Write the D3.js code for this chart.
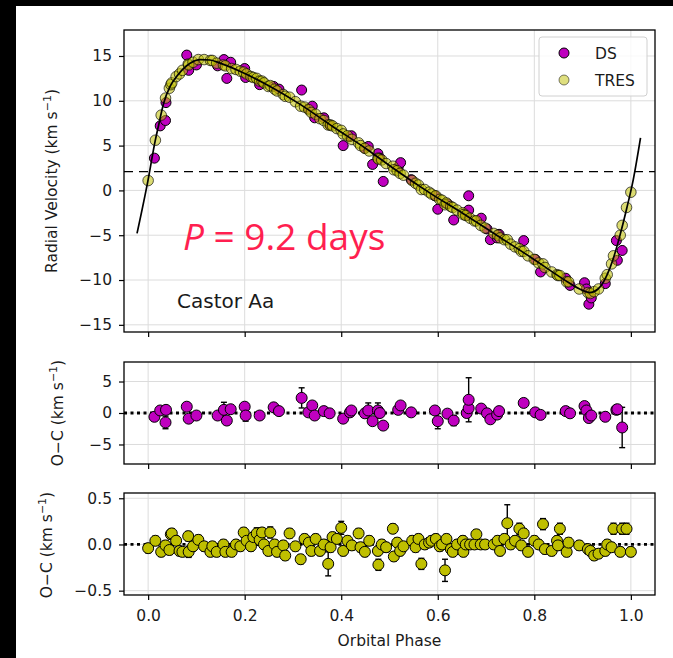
<!DOCTYPE html>
<html>
<head>
<meta charset="utf-8">
<script src="https://cdnjs.cloudflare.com/ajax/libs/d3/7.8.5/d3.min.js"></script>
<style>
  body { margin: 0; background: #fff; }
  svg { display: block; }
  text { font-family: "DejaVu Sans", sans-serif; fill: #1a1a1a; }
</style>
</head>
<body>
<script>

// model curve
const curvePhase = [-0.023, 0.000, 0.0145, 0.021, 0.032, 0.0455, 0.059, 0.073, 0.087, 0.108, 0.128, 0.149, 0.190, 0.246, 0.315, 0.383, 0.453, 0.507, 0.584, 0.653, 0.722, 0.791, 0.860, 0.894, 0.915, 0.932, 0.950, 0.963, 0.977, 0.991, 1.005, 1.020];
const curveRV    = [-4.8, 1.2, 5.5, 7.1, 9.7, 11.6, 12.7, 13.6, 14.2, 14.6, 14.55, 14.2, 13.3, 11.8, 9.6, 7.1, 4.6, 2.5, -0.3, -2.6, -5.0, -7.4, -9.9, -11.0, -11.4, -11.0, -9.5, -7.7, -5.1, -2.1, 1.2, 5.85];
const gamma = 2.1;

// DS observations
const dsPhase = [0.013,0.025,0.036,0.037,0.080,0.084,0.100,0.144,0.157,0.163,0.171,0.200,0.202,0.231,0.260,0.271,0.318,0.332,0.340,0.345,0.364,0.376,0.404,0.418,0.421,0.449,0.456,0.465,0.476,0.480,0.487,0.518,0.523,0.545,0.594,0.600,0.620,0.633,0.660,0.664,0.664,0.690,0.702,0.709,0.723,0.727,0.778,0.802,0.813,0.865,0.874,0.904,0.908,0.913,0.918,0.947,0.970,0.972,0.982];
const dsRV    = [3.6,7.2,7.8,9.8,15.1,13.4,14.0,13.9,14.6,12.5,14.3,13.6,12.6,11.8,11.6,11.3,11.2,9.1,9.4,8.1,8.1,7.3,5.0,6.0,6.1,4.7,4.9,2.9,4.1,3.6,1.0,2.6,3.1,1.2,-0.6,-2.1,-1.5,-3.3,-2.8,-2.2,-0.6,-3.1,-4.3,-5.5,-5.3,-4.9,-5.6,-7.7,-9.1,-9.8,-10.6,-10.3,-11.0,-12.7,-12.0,-10.4,-5.6,-7.8,-6.7];
const dsOC    = [-0.6,0.4,-1.5,0.5,1.0,-0.9,-0.4,-0.4,0.5,-1.2,0.6,1.0,-0.4,-0.4,0.9,0.3,2.4,0.1,1.2,-0.4,0.3,-0.05,-0.9,0.1,0.4,-0.05,0.4,-1.3,0.4,0.0,-2.0,0.5,1.2,0.1,0.4,-1.3,-0.1,-1.2,0.0,0.75,2.1,0.7,-0.05,-1.0,-0.25,0.3,1.6,0.1,-0.3,0.3,-0.05,1.1,0.4,-0.8,-0.4,-0.6,0.5,0.6,-2.3];
const dsErr   = [0.6,0.6,1.0,0.6,0.6,0.6,0.6,0.6,1.2,0.6,0.6,0.6,0.9,0.6,0.6,0.6,1.6,0.6,0.6,0.6,0.6,0.6,0.6,0.6,0.6,0.6,1.2,0.6,1.2,0.6,0.6,0.6,0.6,0.6,0.6,1.2,0.6,0.8,0.6,0.6,3.5,0.6,0.6,0.6,0.6,0.6,0.6,0.6,0.6,0.6,0.6,0.6,0.6,0.6,0.6,0.6,0.6,0.6,3.2];

// TRES observations
const tresPhase = [0.000,0.015,0.027,0.036,0.044,0.047,0.049,0.058,0.065,0.071,
  0.083,0.084,0.093,0.104,0.116,0.129,0.133,0.142,0.156,0.160,
  0.173,0.182,0.191,0.198,0.204,0.213,0.218,0.225,0.231,0.236,
  0.240,0.249,0.253,0.262,0.267,0.280,0.284,0.293,0.305,0.316,
  0.324,0.333,0.338,0.347,0.356,0.364,0.373,0.378,0.382,0.391,
  0.400,0.404,0.413,0.422,0.436,0.440,0.449,0.458,0.476,0.477,
  0.484,0.493,0.507,0.509,0.516,0.522,0.529,0.547,0.554,0.560,
  0.566,0.573,0.582,0.587,0.596,0.604,0.609,0.615,0.618,0.627,
  0.631,0.640,0.652,0.653,0.658,0.667,0.676,0.680,0.689,0.698,
  0.716,0.724,0.729,0.738,0.744,0.751,0.760,0.769,0.773,0.778,
  0.787,0.800,0.809,0.818,0.822,0.836,0.847,0.849,0.853,0.867,
  0.871,0.893,0.911,0.916,0.924,0.933,0.947,0.951,0.960,0.964,
  0.978,0.982,0.991,1.000];
const tresRV = [1.1,5.6,8.4,10.3,11.4,11.8,12.0,12.7,13.0,13.4,
  14.1,14.0,14.3,14.6,14.6,14.5,14.5,14.2,14.0,13.9,
  13.6,13.5,13.3,13.2,13.0,12.7,12.6,12.5,12.2,12.2,
  12.0,11.6,11.7,11.3,11.1,10.7,10.5,10.4,9.9,9.4,
  9.3,9.0,8.7,8.5,8.0,7.8,7.3,7.3,7.2,6.9,
  6.7,6.3,6.1,5.7,5.3,5.0,4.7,4.4,3.6,3.5,
  3.4,3.0,2.7,2.3,2.2,1.9,1.7,1.1,0.8,0.6,
  0.1,0.1,-0.2,-0.4,-0.6,-1.0,-1.1,-1.6,-1.4,-1.8,
  -1.9,-2.2,-2.5,-2.7,-2.8,-3.1,-3.4,-3.4,-3.9,-4.2,
  -4.8,-5.0,-5.3,-5.5,-5.5,-6.0,-6.3,-6.5,-6.8,-6.8,
  -7.3,-7.7,-8.1,-8.2,-8.6,-9.1,-9.4,-9.5,-9.5,-10.2,
  -10.2,-11.0,-11.4,-11.5,-11.3,-11.0,-9.8,-9.4,-8.2,-7.3,
  -5.0,-3.9,-1.9,-0.2];
const tresOC = [-0.04,0.04,-0.08,-0.01,-0.06,0.11,0.12,0.04,-0.07,-0.08,
  0.09,-0.08,-0.02,0.05,-0.02,-0.08,-0.02,-0.08,0.00,-0.08,
  -0.08,0.00,-0.02,0.13,0.04,-0.02,0.08,0.12,0.05,0.13,
  0.00,-0.07,0.13,0.00,-0.08,-0.01,-0.12,0.12,-0.02,-0.16,
  0.06,0.02,-0.07,0.06,-0.07,0.00,-0.21,-0.03,0.08,0.06,
  0.18,-0.07,0.04,-0.01,0.12,-0.03,-0.08,0.04,-0.07,-0.22,
  0.00,-0.03,0.17,-0.13,0.02,-0.07,-0.02,0.04,-0.03,0.06,
  -0.21,0.00,0.02,0.04,0.06,-0.02,0.00,-0.28,0.06,-0.05,
  -0.08,0.00,0.04,-0.08,0.00,0.00,0.00,0.11,0.00,0.00,
  0.00,0.04,-0.07,0.06,0.23,0.00,0.04,0.17,-0.01,0.12,
  -0.08,0.04,0.00,0.22,-0.05,-0.07,0.04,-0.01,0.17,-0.08,
  0.02,-0.01,-0.05,-0.07,-0.12,-0.10,-0.07,0.00,-0.03,0.17,
  -0.08,0.17,0.17,-0.08];
const tresErr = [0.05,0.05,0.05,0.05,0.05,0.05,0.05,0.05,0.05,0.05,
  0.05,0.06,0.05,0.05,0.05,0.05,0.05,0.05,0.05,0.05,
  0.05,0.05,0.05,0.05,0.05,0.05,0.05,0.06,0.06,0.05,
  0.05,0.05,0.06,0.05,0.05,0.05,0.05,0.05,0.05,0.05,
  0.05,0.05,0.05,0.05,0.05,0.05,0.13,0.05,0.05,0.05,
  0.07,0.05,0.05,0.05,0.05,0.05,0.05,0.05,0.05,0.06,
  0.05,0.05,0.05,0.05,0.05,0.05,0.05,0.05,0.05,0.05,
  0.06,0.05,0.05,0.05,0.05,0.05,0.05,0.12,0.05,0.05,
  0.05,0.05,0.05,0.05,0.05,0.05,0.05,0.05,0.05,0.05,
  0.05,0.05,0.05,0.05,0.20,0.05,0.05,0.06,0.05,0.05,
  0.05,0.05,0.05,0.06,0.05,0.05,0.05,0.05,0.06,0.05,
  0.05,0.05,0.05,0.05,0.05,0.05,0.05,0.05,0.05,0.06,
  0.05,0.06,0.06,0.05];

// ticks
const phaseTicks = [0, 0.2, 0.4, 0.6, 0.8, 1.0];
const rvTicks = [-15, -10, -5, 0, 5, 10, 15];
const dsOCTicks = [-5, 0, 5];
const tresOCTicks = [-0.5, 0, 0.5];

const W = 673, H = 658;
const L = 124, R = 655;
const magenta = "#bf00bf", olive = "#bfbf00";

let svg = d3.select("body").append("svg")
  .attr("width", W)
  .attr("height", H);

svg.append("rect").attr("width", W).attr("height", H).attr("fill", "#fff");
// black border of the screenshot
svg.append("rect").attr("x", 0).attr("y", 0).attr("width", W).attr("height", 6).attr("fill", "#000");
svg.append("rect").attr("x", 0).attr("y", 0).attr("width", 16).attr("height", H).attr("fill", "#000");

const x = d3.scaleLinear().domain([-0.05, 1.05]).range([L, R]);

const yRV = d3.scaleLinear().domain([-15.8, 17.9]).range([332, 30]);
const yDS = d3.scaleLinear().domain([-8.1, 8.1]).range([464, 362]);
const yTR = d3.scaleLinear().domain([-0.547, 0.557]).range([595, 493]);

function panel(y, yTicks, fmt, xLabels) {
  let g = svg.append("g");
  let [b, t] = y.range();

  // grid
  g.selectAll(null).data(phaseTicks).enter().append("line")
    .attr("x1", d => x(d)).attr("x2", d => x(d))
    .attr("y1", t).attr("y2", b)
    .attr("stroke", "#dcdcdc").attr("stroke-width", 1);
  g.selectAll(null).data(yTicks).enter().append("line")
    .attr("x1", L).attr("x2", R)
    .attr("y1", d => y(d)).attr("y2", d => y(d))
    .attr("stroke", "#dcdcdc").attr("stroke-width", 1);

  let ya = g.append("g")
    .attr("transform", `translate(${L},0)`)
    .call(d3.axisLeft(y).tickValues(yTicks).tickFormat(fmt).tickSize(5).tickPadding(7));
  let xa = g.append("g")
    .attr("transform", `translate(0,${b})`)
    .call(d3.axisBottom(x).tickValues(phaseTicks).tickSize(5).tickPadding(10)
      .tickFormat(xLabels ? d3.format(".1f") : ""));
  [ya, xa].forEach(a => {
    a.select(".domain").remove();
    a.selectAll("line").attr("stroke", "#000").attr("stroke-width", 1.2);
    a.selectAll("text").attr("font-size", "15.5px")
      .attr("font-family", "DejaVu Sans").attr("fill", "#1a1a1a");
  });
  return g;
}

function frame(y) {
  let [b, t] = y.range();
  svg.append("rect")
    .attr("x", L).attr("y", t).attr("width", R - L).attr("height", b - t)
    .attr("fill", "none").attr("stroke", "#000").attr("stroke-width", 1.3);
}

// ---------- top panel: radial velocity ----------
panel(yRV, rvTicks, d3.format("d"), false);

svg.append("line")
  .attr("x1", L).attr("x2", R)
  .attr("y1", yRV(gamma)).attr("y2", yRV(gamma))
  .attr("stroke", "#000").attr("stroke-width", 1.3)
  .attr("stroke-dasharray", "9,6");

svg.append("g").selectAll("circle")
  .data(dsPhase.map((p, i) => ({p: p, v: dsRV[i]})))
  .enter().append("circle")
    .attr("cx", d => x(d.p)).attr("cy", d => yRV(d.v)).attr("r", 5)
    .attr("fill", magenta).attr("stroke", "#000").attr("stroke-width", 1);

svg.append("g").selectAll("circle")
  .data(tresPhase.map((p, i) => ({p: p, v: tresRV[i]})))
  .enter().append("circle")
    .attr("cx", d => x(d.p)).attr("cy", d => yRV(d.v)).attr("r", 5.3)
    .attr("fill", olive).attr("fill-opacity", 0.55)
    .attr("stroke", "#000").attr("stroke-opacity", 0.65).attr("stroke-width", 1);

svg.append("path")
  .datum(curvePhase.map((p, i) => [p, curveRV[i]]))
  .attr("d", d3.line().x(d => x(d[0])).y(d => yRV(d[1])).curve(d3.curveMonotoneX))
  .attr("fill", "none").attr("stroke", "#000").attr("stroke-width", 1.7);

frame(yRV);

// legend
let leg = svg.append("g");
leg.append("rect")
  .attr("x", 539).attr("y", 37).attr("width", 108).attr("height", 59).attr("rx", 3)
  .attr("fill", "#fff").attr("fill-opacity", 0.8)
  .attr("stroke", "#d0d0d0").attr("stroke-width", 1);
leg.append("circle").attr("cx", 564).attr("cy", 53).attr("r", 5)
  .attr("fill", magenta).attr("stroke", "#000");
leg.append("circle").attr("cx", 564).attr("cy", 80).attr("r", 5)
  .attr("fill", olive).attr("fill-opacity", 0.5)
  .attr("stroke", "#000").attr("stroke-opacity", 0.5);
leg.append("text").attr("x", 595).attr("y", 58.5).attr("font-size", "15.5px").text("DS");
leg.append("text").attr("x", 595).attr("y", 85.5).attr("font-size", "15.5px").text("TRES");

// annotations
let ptxt = svg.append("text")
  .attr("x", 183).attr("y", 250)
  .style("font-family", "'Open Sans', sans-serif")
  .style("font-size", "37px")
  .style("fill", "#ff1f50");
ptxt.append("tspan").attr("font-style", "italic").text("P");
ptxt.append("tspan").text(" = 9.2 days");

svg.append("text")
  .attr("x", 177).attr("y", 308)
  .attr("font-size", "20px")
  .text("Castor Aa");

// ---------- middle panel: DS residuals ----------
panel(yDS, dsOCTicks, d3.format("d"), false);

svg.append("line")
  .attr("x1", L).attr("x2", R).attr("y1", yDS(0)).attr("y2", yDS(0))
  .attr("stroke", "#000").attr("stroke-width", 2.8).attr("stroke-dasharray", "3,3.5");

let dsRes = dsPhase.map((p, i) => ({p: p, v: dsOC[i], e: dsErr[i]}));
let dsBars = svg.append("g").selectAll("g").data(dsRes).enter().append("g")
  .attr("stroke", "#000").attr("stroke-width", 1.4);
dsBars.append("line")
  .attr("x1", d => x(d.p)).attr("x2", d => x(d.p))
  .attr("y1", d => yDS(d.v - d.e)).attr("y2", d => yDS(d.v + d.e));
dsBars.append("line")
  .attr("x1", d => x(d.p) - 3).attr("x2", d => x(d.p) + 3)
  .attr("y1", d => yDS(d.v - d.e)).attr("y2", d => yDS(d.v - d.e));
dsBars.append("line")
  .attr("x1", d => x(d.p) - 3).attr("x2", d => x(d.p) + 3)
  .attr("y1", d => yDS(d.v + d.e)).attr("y2", d => yDS(d.v + d.e));
svg.append("g").selectAll("circle").data(dsRes).enter().append("circle")
  .attr("cx", d => x(d.p)).attr("cy", d => yDS(d.v)).attr("r", 5.5)
  .attr("fill", magenta).attr("stroke", "#000").attr("stroke-width", 1);

frame(yDS);

// ---------- bottom panel: TRES residuals ----------
panel(yTR, tresOCTicks, d3.format(".1f"), true);

svg.append("line")
  .attr("x1", L).attr("x2", R).attr("y1", yTR(0)).attr("y2", yTR(0))
  .attr("stroke", "#000").attr("stroke-width", 2.8).attr("stroke-dasharray", "3,3.5");

let trRes = tresPhase.map((p, i) => ({p: p, v: tresOC[i], e: tresErr[i]}));
let trBars = svg.append("g").selectAll("g").data(trRes).enter().append("g")
  .attr("stroke", "#000").attr("stroke-width", 1.4);
trBars.append("line")
  .attr("x1", d => x(d.p)).attr("x2", d => x(d.p))
  .attr("y1", d => yTR(d.v - d.e)).attr("y2", d => yTR(d.v + d.e));
trBars.append("line")
  .attr("x1", d => x(d.p) - 3).attr("x2", d => x(d.p) + 3)
  .attr("y1", d => yTR(d.v - d.e)).attr("y2", d => yTR(d.v - d.e));
trBars.append("line")
  .attr("x1", d => x(d.p) - 3).attr("x2", d => x(d.p) + 3)
  .attr("y1", d => yTR(d.v + d.e)).attr("y2", d => yTR(d.v + d.e));
svg.append("g").selectAll("circle").data(trRes).enter().append("circle")
  .attr("cx", d => x(d.p)).attr("cy", d => yTR(d.v)).attr("r", 5.5)
  .attr("fill", olive).attr("stroke", "#000").attr("stroke-width", 1);

frame(yTR);

// ---------- axis titles ----------
function ylabel(cx, cy, main) {
  let t = svg.append("text")
    .attr("transform", `translate(${cx},${cy}) rotate(-90)`)
    .attr("text-anchor", "middle")
    .attr("dy", "0.35em")
    .attr("font-size", "15.5px");
  t.append("tspan").text(main + " (km s");
  t.append("tspan").attr("dy", -6).attr("font-size", "11px").text("\u22121");
  t.append("tspan").attr("dy", 6).text(")");
}
ylabel(52, 181, "Radial Velocity");
ylabel(58, 413, "O\u2212C");
ylabel(47, 545, "O\u2212C");

svg.append("text")
  .attr("x", (L + R) / 2).attr("y", 646)
  .attr("text-anchor", "middle")
  .attr("font-size", "15.5px")
  .text("Orbital Phase");

</script>
</body>
</html>
